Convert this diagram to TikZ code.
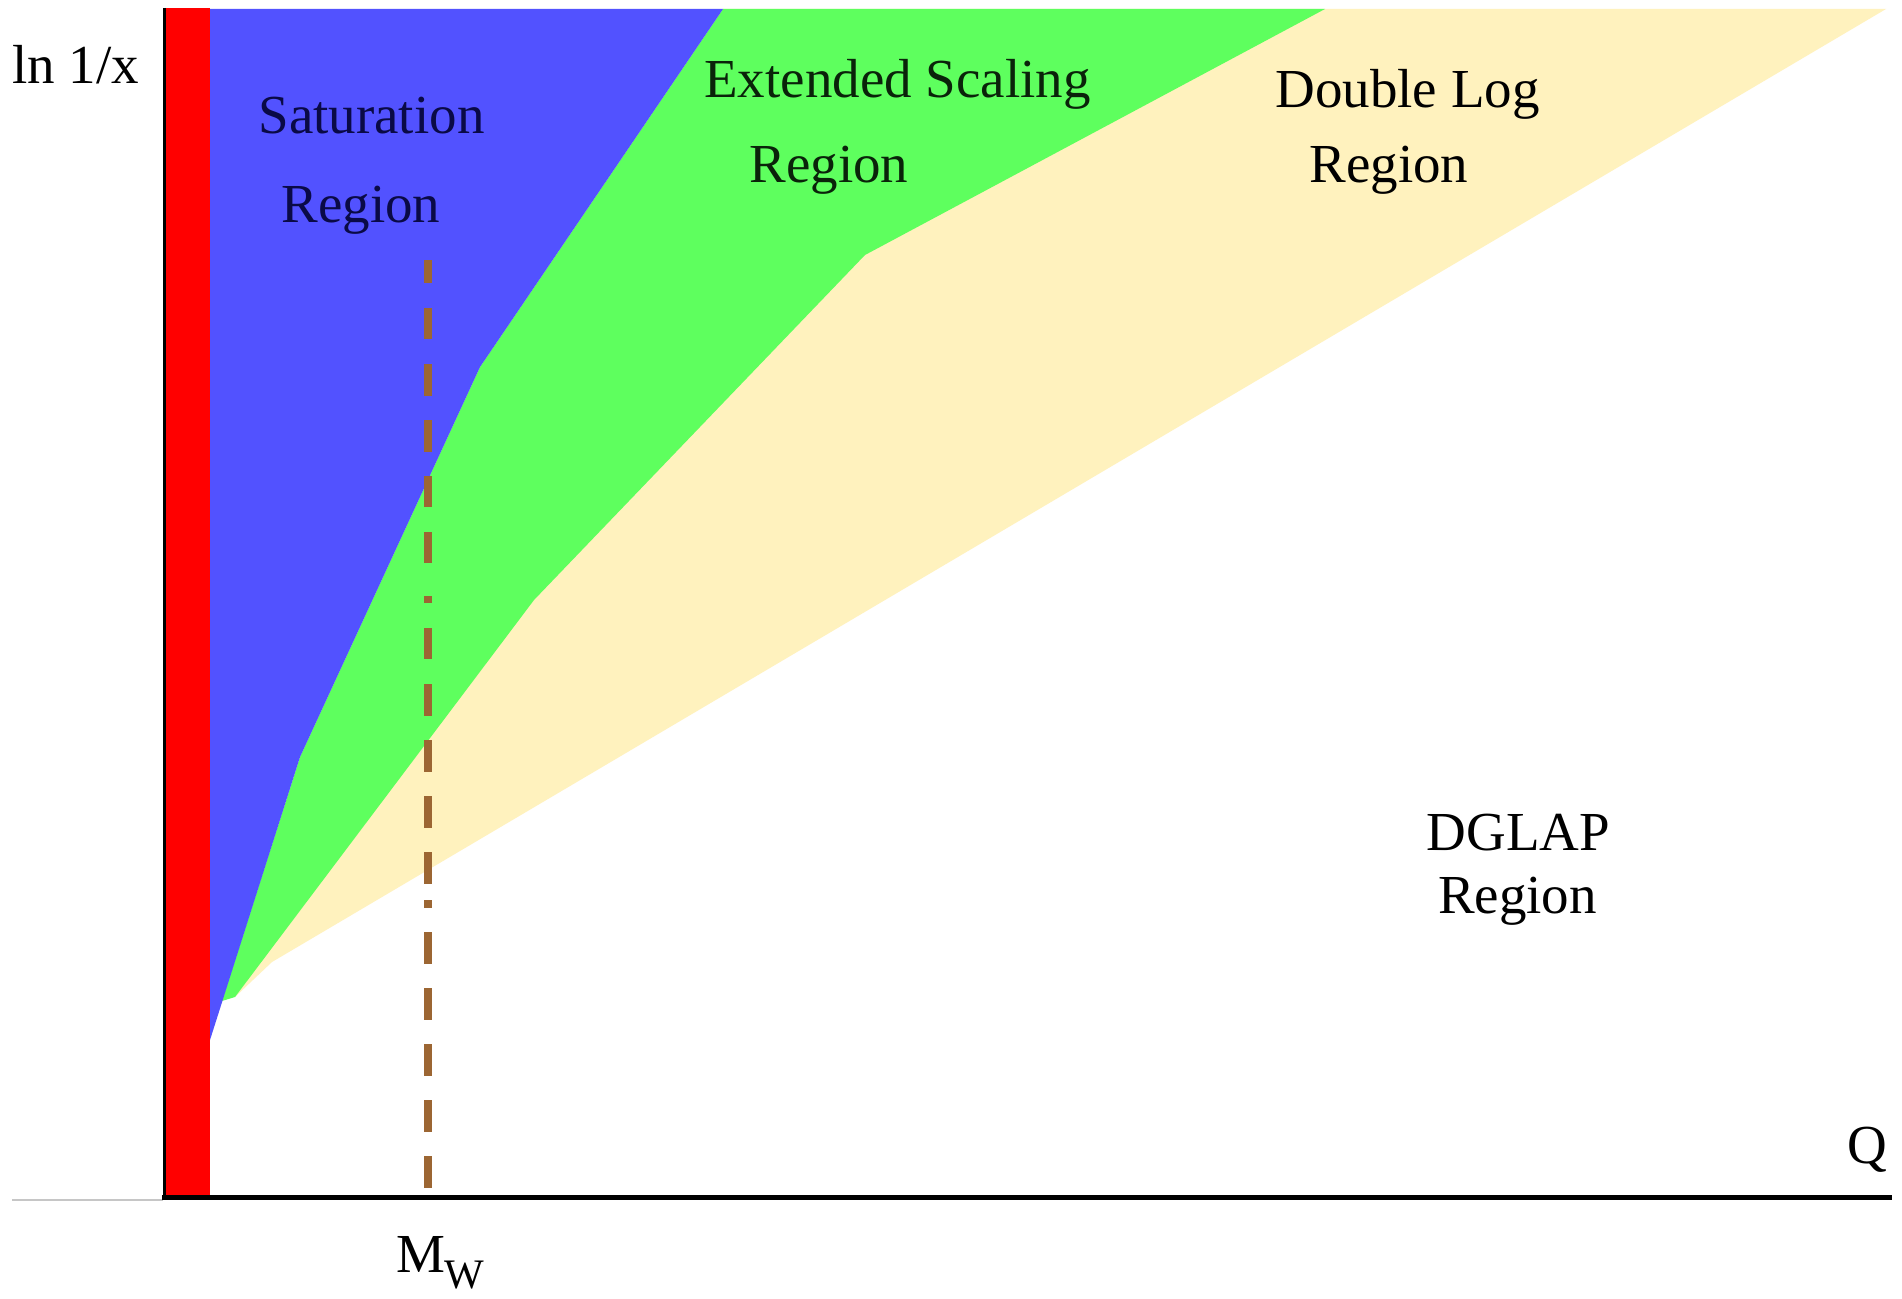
\documentclass[tikz,border=0pt]{standalone}
\usepackage{fontspec}
\setmainfont{Liberation Serif}
\definecolor{satblue}{RGB}{82,82,255}
\definecolor{extgreen}{RGB}{94,255,94}
\definecolor{dlcream}{RGB}{255,242,190}
\definecolor{mwbrown}{RGB}{156,102,51}
\definecolor{navytext}{RGB}{10,10,70}
\definecolor{dgtext}{RGB}{10,35,10}
\begin{document}
\begin{tikzpicture}[x=1pt,y=-1pt,
  lbl/.style={inner sep=0pt, outer sep=0pt, anchor=base, font=\fontsize{55}{55}\selectfont},
  mwdash/.style={fill=mwbrown}]
\useasboundingbox (0,0) rectangle (1902,1298);
\fill[white] (0,0) rectangle (1902,1298);
% Double Log region (cream)
\fill[dlcream] (723,9) -- (1886,9) -- (272,962) -- (235,997) -- (300,757) -- (480,367) -- cycle;
% Extended scaling region (green)
\fill[extgreen] (723,9) -- (1325,9) -- (865,255) -- (534,600) -- (235,997) -- (222,1001) -- (300,757) -- (480,367) -- cycle;
% Saturation region (blue)
\fill[satblue] (209,9) -- (723,9) -- (480,367) -- (300,757) -- (210,1040) -- cycle;
% red band
\fill[red] (164,8) rectangle (210,1197);
% axes
\draw[gray!45, line width=2pt] (12,1200) -- (163,1200);
\draw[black, line width=3pt] (164,8) -- (164,1199);
\draw[black, line width=5pt] (162,1197) -- (1892,1197);
% M_W dashed line
\foreach \a/\b in {260/283,308/339,364/396,420/452,476/507,532/563,596/603,628/659,684/716,740/772,796/828,852/884,900/908,932/964,988/1020,1044/1076,1100/1132,1156/1188}
  \fill[mwdash] (424,\a) rectangle (432,\b);
% labels
\node[lbl] (lnx) at (75.5,83) {ln 1/x};
\node[lbl, text=navytext] (sat1) at (371.5,133) {Saturation};
\node[lbl, text=navytext] (sat2) at (361,222) {Region};
\node[lbl, text=dgtext] (ext1) at (897.5,97) {Extended Scaling};
\node[lbl, text=dgtext] (ext2) at (829,182) {Region};
\node[lbl] (dl1) at (1407.5,107) {Double Log};
\node[lbl] (dl2) at (1389,182) {Region};
\node[lbl] (dg1) at (1518.5,850) {DGLAP};
\node[lbl] (dg2) at (1517.5,913) {Region};
\node[lbl] (q) at (1867.5,1163) {Q};
\node[lbl, anchor=base west] (mw) at (396,1272) {M\raisebox{-16pt}{\fontsize{42}{42}\selectfont W}};
\end{tikzpicture}
\end{document}
